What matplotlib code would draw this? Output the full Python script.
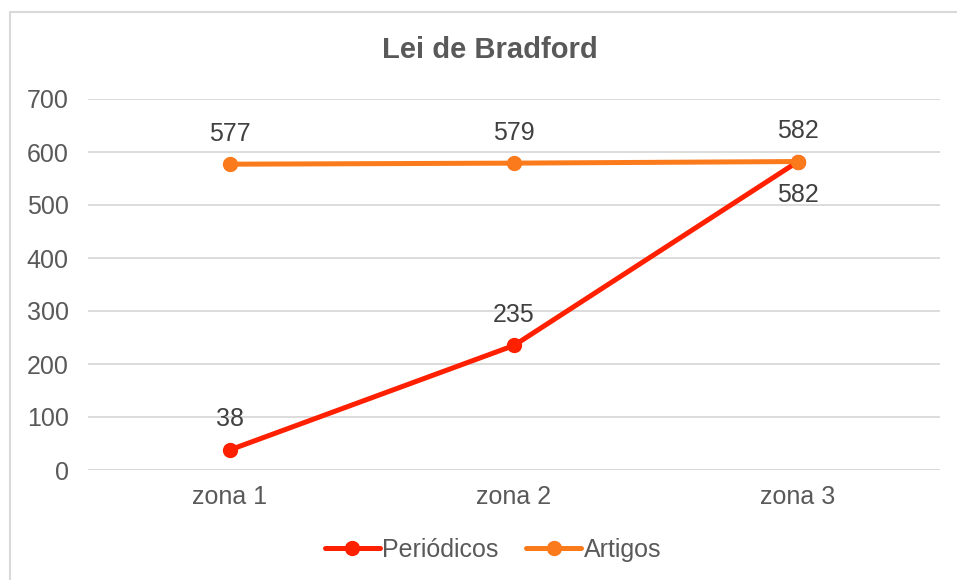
import matplotlib.pyplot as plt
from matplotlib.patches import Rectangle

categories = ["zona 1", "zona 2", "zona 3"]
periodicos = [38, 235, 582]
artigos = [577, 579, 582]
yticks = [0, 100, 200, 300, 400, 500, 600, 700]

red = "#FF2000"
orange = "#FB7A1C"
grid = "#D9D9D9"
tick_col = "#595959"
label_col = "#404040"
fs = 18

plt.rcParams['font.family'] = ['Liberation Sans', 'DejaVu Sans']

fig = plt.figure(figsize=(9.57, 5.8), dpi=100)
fig.patches.append(Rectangle((10 / 957, -0.1), 1.2, 1.1 - 12 / 580,
                             transform=fig.transFigure, fill=False,
                             edgecolor=grid, lw=1.5))

ax = fig.add_axes([88 / 957, 110 / 580, 852 / 957, 371 / 580])
x = list(range(len(categories)))

ax.plot(x, periodicos, color=red, lw=3.6, marker="o", ms=10,
        solid_capstyle="round", label="Periódicos", zorder=3)
ax.plot(x, artigos, color=orange, lw=3.6, marker="o", ms=10,
        solid_capstyle="round", label="Artigos", zorder=4)

for i, v in enumerate(artigos):
    ax.annotate(str(v), (i, v), xytext=(0, 22), textcoords="offset points",
                ha="center", va="center", fontsize=fs, color=label_col)
for i, v in enumerate(periodicos):
    dy = -24 if i == len(periodicos) - 1 else 22
    ax.annotate(str(v), (i, v), xytext=(0, dy), textcoords="offset points",
                ha="center", va="center", fontsize=fs, color=label_col)

ax.set_xlim(-0.5, 2.5)
ax.set_ylim(0, 700)
ax.set_yticks(yticks)
ax.set_xticks(x)
ax.set_xticklabels(categories)
ax.tick_params(axis="both", length=0, labelsize=fs, colors=tick_col)
ax.tick_params(axis="y", pad=14)
ax.tick_params(axis="x", pad=11)
ax.grid(axis="y", color=grid, lw=1.3)
ax.set_axisbelow(True)
for s in ax.spines.values():
    s.set_visible(False)
ax.axhline(0, color=grid, lw=1.3, zorder=1)

fig.text(0.512, 1 - 50 / 580, "Lei de Bradford", ha="center", va="center",
         fontsize=21, fontweight="bold", color=tick_col)

fig.legend(loc="center", bbox_to_anchor=(0.515, 30 / 580), ncol=2,
           frameon=False, fontsize=fs, labelcolor=tick_col,
           handlelength=2.2, handletextpad=0.1, columnspacing=1.1)

fig.savefig("out.png", dpi=100)
